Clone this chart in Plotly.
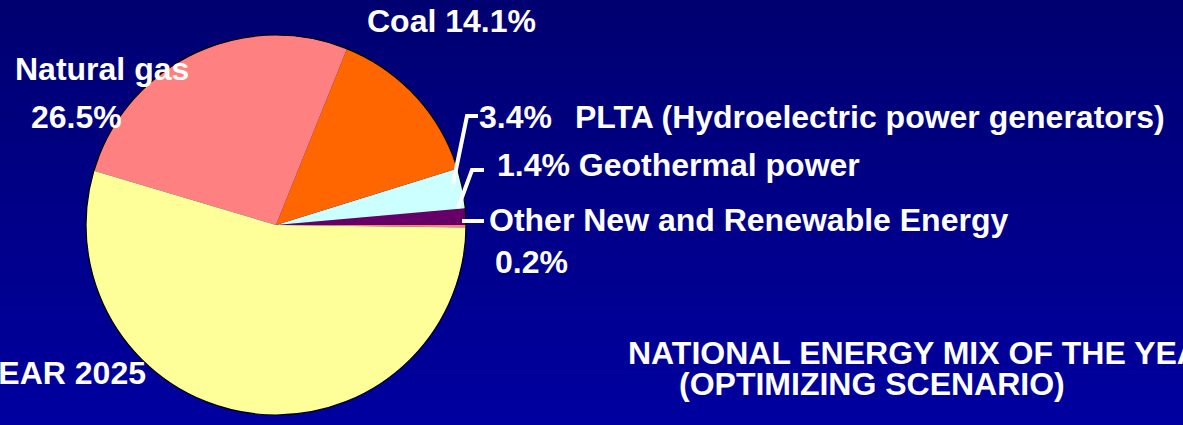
import plotly.graph_objects as go

# ---- data ----
labels = ["Other New and Renewable Energy", "Geothermal power",
          "PLTA (Hydroelectric power generators)", "Coal", "Natural gas", "Oil"]
values = [0.2, 1.4, 3.4, 14.1, 26.5, 54.4]
colors = ["#FF7C80", "#660066", "#CCFFFF", "#FF6600", "#FF8080", "#FFFF99"]
title_lines = ["NATIONAL ENERGY MIX OF THE YEAR 2025", "(OPTIMIZING SCENARIO)"]
side_text = "YEAR 2025"

W, H = 1183, 425
def px(x): return x / W
def py(y): return 1 - y / H

FONT = "Arial, 'Liberation Sans', sans-serif"

fig = go.Figure()

cx, cy, r = 276, 225, 190
fig.add_trace(go.Pie(
    labels=labels, values=values, sort=False, direction="counterclockwise",
    rotation=90, textinfo="none", hoverinfo="label+percent", showlegend=False,
    marker=dict(colors=colors, line=dict(width=0)),
    domain=dict(x=[px(cx - r - 10), px(cx + r + 10)], y=[py(cy + r), py(cy - r)]),
))

shapes = []
# background gradient (styling)
n = 60
top = (0, 0, 112)
bot = (0, 0, 160)
for i in range(n):
    t = i / (n - 1)
    c = tuple(int(round(top[k] + (bot[k] - top[k]) * t)) for k in range(3))
    shapes.append(dict(type="rect", xref="paper", yref="paper", layer="below",
                       x0=0, x1=1, y0=1 - (i + 1) / n, y1=1 - i / n,
                       line=dict(width=0), fillcolor="rgb(%d,%d,%d)" % c))
# pie outline
shapes.append(dict(type="circle", xref="paper", yref="paper", layer="above",
                   x0=px(cx - r), x1=px(cx + r), y0=py(cy + r), y1=py(cy - r),
                   line=dict(color="black", width=1.2), fillcolor="rgba(0,0,0,0)"))
# leader lines
def path(pts):
    return "M " + " L ".join("%f,%f" % (px(a), py(b)) for a, b in pts)
for pts in [[(453, 184), (467, 116), (478, 116)],
            [(458, 208), (472, 170), (484, 170)],
            [(462, 221), (484, 221)]]:
    shapes.append(dict(type="path", xref="paper", yref="paper", layer="above",
                       path=path(pts), line=dict(color="white", width=4)))

def ann(text, x, y, anchor="left", size=32):
    return dict(text="<b>%s</b>" % text, x=px(x), y=py(y), xref="paper", yref="paper",
                xanchor=anchor, yanchor="middle", showarrow=False,
                font=dict(family=FONT, size=size, color="white"))

annotations = [
    ann("%s %.1f%%" % (labels[3], values[3]), 365, 21),
    ann(labels[4], 13, 69),
    ann("%.1f%%" % values[4], 29, 117),
    ann("%.1f%%" % values[2], 477, 117),
    ann(labels[2], 573, 117),
    ann("%.1f%% %s" % (values[1], labels[1]), 495, 165),
    ann(labels[0], 487, 220),
    ann("%.1f%%" % values[0], 493, 262),
    ann(title_lines[0], 626, 353),
    ann(title_lines[1], 677, 384),
    ann(side_text, 148, 373, anchor="right"),
]

fig.update_layout(
    width=W, height=H, margin=dict(l=0, r=0, t=0, b=0, pad=0),
    paper_bgcolor="#000080", plot_bgcolor="#000080",
    shapes=shapes, annotations=annotations,
)
fig.write_html("out.html", config={"displayModeBar": False},
               post_script="document.body.style.margin='0';document.body.style.overflow='hidden';")
